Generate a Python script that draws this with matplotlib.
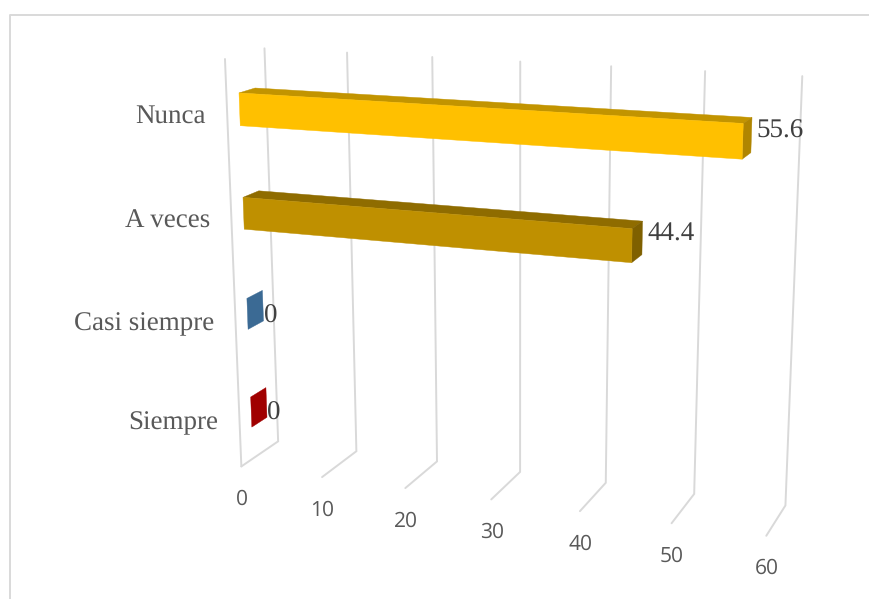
import numpy as np
import matplotlib
matplotlib.use("Agg")
import matplotlib.pyplot as plt
from matplotlib.patches import Polygon

plt.rcParams["text.hinting"] = "no_hinting"
plt.rcParams["text.hinting_factor"] = 1

# Chart data, listed from the bottom row to the top row
categories = ["Siempre", "Casi siempre", "A veces", "Nunca"]
values = [0, 0, 44.4, 55.6]
value_labels = ["0", "0", "44.4", "55.6"]
ticks = [0, 10, 20, 30, 40, 50, 60]

# Face colours per row: front, top, end
front_colors = ["#A00000", "#3B6A94", "#BF9000", "#FFC000"]
top_colors = ["#800000", "#2F5577", "#8F6C00", "#C29400"]
end_colors = ["#A00000", "#3B6A94", "#7F6000", "#B08500"]

GRID = "#D9D9D9"
TEXT = "#595959"
VALUE_TEXT = "#404040"

# Camera calibration: (value, height, depth) -> canvas pixel
camera_points = [
    (0, 0, 0, 241.5, 465), (60, 0, 0, 766, 536),
    (10, 0, 0, 322, 478), (30, 0, 0, 491, 500), (50, 0, 0, 672, 523),
    (0, 0, 1, 278, 442), (10, 0, 1, 356.5, 451), (20, 0, 1, 437, 461),
    (30, 0, 1, 520, 472), (40, 0, 1, 606, 483), (50, 0, 1, 694, 494),
    (60, 0, 1, 785.5, 505),
    (0, 1, 1, 264.5, 48), (10, 1, 1, 347, 53), (20, 1, 1, 432, 57),
    (30, 1, 1, 520, 62), (40, 1, 1, 612, 66), (50, 1, 1, 705, 71),
    (60, 1, 1, 802, 76),
    (0, 1, 0, 225, 59),
]


def fit_camera(points):
    rows = []
    for v, h, d, px, py in points:
        X = [v / 60, h, d, 1]
        rows.append(X + [0, 0, 0, 0] + [-px * c for c in X])
        rows.append([0, 0, 0, 0] + X + [-py * c for c in X])
    return np.linalg.svd(np.array(rows))[2][-1].reshape(3, 4)


CAMERA = fit_camera(camera_points)


def project(v, h, d):
    u = CAMERA @ np.array([v / 60, h, d, 1.0])
    return u[0] / u[2], u[1] / u[2]


fig = plt.figure(figsize=(8.69, 5.99), dpi=100, facecolor="white")
ax = fig.add_axes([0, 0, 1, 1])
ax.set_xlim(0, 869)
ax.set_ylim(599, 0)
ax.axis("off")

# Outer chart frame, cut by the canvas on the right and at the bottom
ax.plot([9.5, 9.5, 869], [599, 14.5, 14.5], color=GRID, lw=1.4, zorder=1)

# Gridlines: left wall edge, back wall verticals, floor runs
line_style = dict(color=GRID, lw=1.4, zorder=2, solid_capstyle="round",
                  solid_joinstyle="miter")
ax.plot(*zip(project(0, 1, 0), project(0, 0, 0)), **line_style)
for t in ticks:
    ax.plot(*zip(project(t, 1, 1), project(t, 0, 1), project(t, 0, 0)),
            **line_style)
    x, y = project(t, 0, 0)
    ax.annotate(str(t), (x, y), xytext=(x + 0.5, y + 33), textcoords="data",
                ha="center", va="center", fontsize=15.2, color=TEXT,
                family="Open Sans", zorder=6)

BAR_THICK = 0.078
D_FRONT, D_BACK = 0.31, 0.72
row_centers = [0.121, 0.372, 0.622, 0.873]


def face(points, color, z):
    ax.add_patch(Polygon([project(*p) for p in points], closed=True,
                         facecolor=color, edgecolor=color, lw=0.3, zorder=z))


for i, (name, val, lab) in enumerate(zip(categories, values, value_labels)):
    lo = row_centers[i] - BAR_THICK / 2
    hi = row_centers[i] + BAR_THICK / 2
    if val > 0:
        face([(0, hi, D_FRONT), (val, hi, D_FRONT),
              (val, hi, D_BACK), (0, hi, D_BACK)], top_colors[i], 3)
        face([(val, lo, D_FRONT), (val, hi, D_FRONT),
              (val, hi, D_BACK), (val, lo, D_BACK)], end_colors[i], 3)
        face([(0, lo, D_FRONT), (val, lo, D_FRONT),
              (val, hi, D_FRONT), (0, hi, D_FRONT)], front_colors[i], 4)
        dx, dy = 5, -4
    else:
        # A zero-length bar collapses to its end face
        face([(0, lo, D_FRONT), (0, hi, D_FRONT),
              (0, hi, D_BACK), (0, lo, D_BACK)], front_colors[i], 4)
        dx, dy = 1, 11

    x, y = project(val, row_centers[i], D_BACK)
    ax.text(x + dx, y + dy, lab, ha="left", va="center", fontsize=19.7,
            color=VALUE_TEXT, family="Liberation Serif", zorder=6)

    x, y = project(0, row_centers[i], 0)
    ax.text(x - 21, y + 3, name, ha="right", va="center", fontsize=19.7,
            color=TEXT, family="Liberation Serif", zorder=6)

fig.savefig("out.png", dpi=100, facecolor="white")
